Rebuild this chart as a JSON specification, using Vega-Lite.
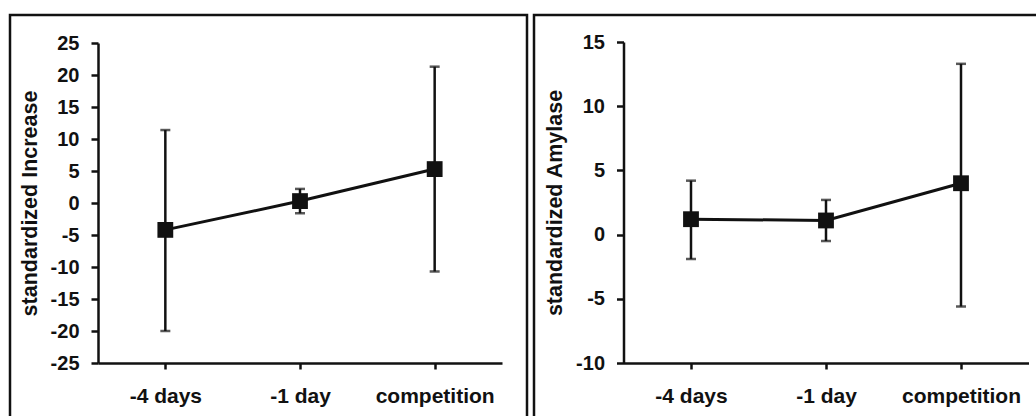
{
  "$schema": "https://vega.github.io/schema/vega-lite/v6.json",
  "padding": {"left": 8, "top": 13, "right": 0, "bottom": 0},
  "spacing": 3,
  "background": "white",
  "config": {
    "view": {"stroke": "#111", "strokeWidth": 2.5},
    "font": "Liberation Sans",
    "axis": {
      "grid": false,
      "domainColor": "#111",
      "domainWidth": 2.5,
      "tickColor": "#111",
      "tickWidth": 2.5,
      "labelColor": "#111",
      "labelFont": "Liberation Sans",
      "labelFontWeight": "bold",
      "titleFont": "Liberation Sans",
      "titleFontWeight": "bold",
      "titleColor": "#111",
      "labelExpr": "replace(datum.label, '−', '-')"
    }
  },
  "hconcat": [
    {
      "width": 517,
      "height": 410,
      "data": {"values": [
        {"time": "-4 days", "mean": -4.2, "lo": -20.0, "hi": 11.4},
        {"time": "-1 day", "mean": 0.3, "lo": -1.6, "hi": 2.2},
        {"time": "competition", "mean": 5.3, "lo": -10.7, "hi": 21.3}
      ]},
      "encoding": {
        "x": {
          "field": "time", "type": "ordinal",
          "sort": ["-4 days", "-1 day", "competition"],
          "scale": {"type": "point", "range": [88, 492], "padding": 0.5},
          "axis": {"title": null, "labelAngle": 0, "offset": -62, "tickSize": 6, "labelPadding": 16, "labelFontSize": 21, "labelOverlap": false, "labelBound": false}
        }
      },
      "layer": [
        {
          "mark": {"type": "rule", "strokeWidth": 2.5, "color": "#111"},
          "encoding": {
            "y": {"field": "lo", "type": "quantitative", "title": "standardized Increase",
              "scale": {"domain": [-25, 25], "range": [348, 28], "nice": false, "zero": false},
              "axis": {"offset": -88, "tickSize": 7, "labelPadding": 12, "labelFontSize": 20, "values": [-25, -20, -15, -10, -5, 0, 5, 10, 15, 20, 25], "titleFontSize": 21.5, "titlePadding": 9}},
            "y2": {"field": "hi"}
          }
        },
        {
          "mark": {"type": "tick", "size": 10, "thickness": 2.5, "color": "#111"},
          "encoding": {"y": {"field": "lo", "type": "quantitative", "title": "standardized Increase"}}
        },
        {
          "mark": {"type": "tick", "size": 10, "thickness": 2.5, "color": "#111"},
          "encoding": {"y": {"field": "hi", "type": "quantitative", "title": "standardized Increase"}}
        },
        {
          "mark": {"type": "line", "strokeWidth": 3, "color": "#111"},
          "encoding": {"y": {"field": "mean", "type": "quantitative", "title": "standardized Increase"}}
        },
        {
          "mark": {"type": "square", "size": 250, "filled": true, "color": "#111", "opacity": 1},
          "encoding": {"y": {"field": "mean", "type": "quantitative", "title": "standardized Increase"}}
        }
      ]
    },
    {
      "width": 520,
      "height": 410,
      "data": {"values": [
        {"time": "-4 days", "mean": 1.2, "lo": -1.9, "hi": 4.2},
        {"time": "-1 day", "mean": 1.1, "lo": -0.5, "hi": 2.7},
        {"time": "competition", "mean": 4.0, "lo": -5.6, "hi": 13.3}
      ]},
      "encoding": {
        "x": {
          "field": "time", "type": "ordinal",
          "sort": ["-4 days", "-1 day", "competition"],
          "scale": {"type": "point", "range": [89.5, 494.5], "padding": 0.5},
          "axis": {"title": null, "labelAngle": 0, "offset": -62, "tickSize": 6, "labelPadding": 16, "labelFontSize": 21, "labelOverlap": false, "labelBound": false}
        }
      },
      "layer": [
        {
          "mark": {"type": "rule", "strokeWidth": 2.5, "color": "#111"},
          "encoding": {
            "y": {"field": "lo", "type": "quantitative", "title": "standardized Amylase",
              "scale": {"domain": [-10, 15], "range": [348, 27], "nice": false, "zero": false},
              "axis": {"offset": -89.5, "tickSize": 7, "labelPadding": 12, "labelFontSize": 20, "values": [-10, -5, 0, 5, 10, 15], "titleFontSize": 21.5, "titlePadding": 9}},
            "y2": {"field": "hi"}
          }
        },
        {
          "mark": {"type": "tick", "size": 10, "thickness": 2.5, "color": "#111"},
          "encoding": {"y": {"field": "lo", "type": "quantitative", "title": "standardized Amylase"}}
        },
        {
          "mark": {"type": "tick", "size": 10, "thickness": 2.5, "color": "#111"},
          "encoding": {"y": {"field": "hi", "type": "quantitative", "title": "standardized Amylase"}}
        },
        {
          "mark": {"type": "line", "strokeWidth": 3, "color": "#111"},
          "encoding": {"y": {"field": "mean", "type": "quantitative", "title": "standardized Amylase"}}
        },
        {
          "mark": {"type": "square", "size": 250, "filled": true, "color": "#111", "opacity": 1},
          "encoding": {"y": {"field": "mean", "type": "quantitative", "title": "standardized Amylase"}}
        }
      ]
    }
  ]
}
